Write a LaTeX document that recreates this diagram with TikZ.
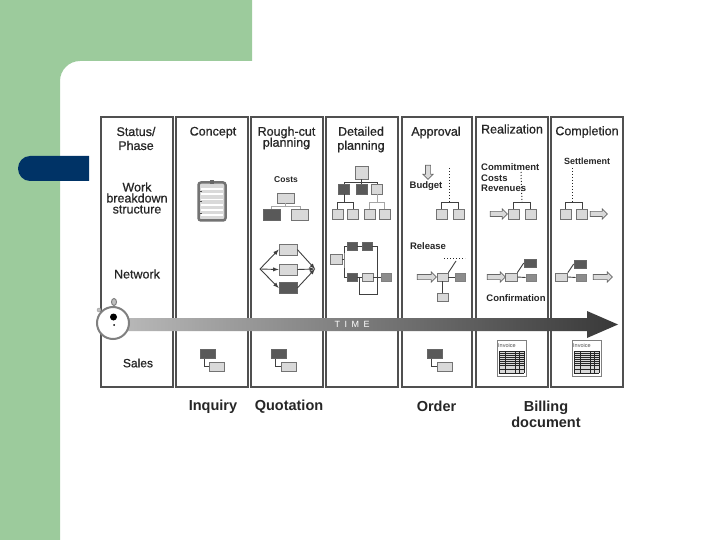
\documentclass[tikz,border=0pt]{standalone}
\usepackage{fontspec}
\setmainfont{Liberation Sans}
\newfontfamily\heavyfont[FakeBold=0.7]{Liberation Sans}
\usetikzlibrary{shapes.arrows, shapes.geometric}
\definecolor{pagegreen}{HTML}{9CCB9C}
\definecolor{pagenavy}{HTML}{003366}
\definecolor{panelgray}{HTML}{505050}
\tikzset{
    panel/.style={draw=panelgray, line width=2pt, fill=white},
    title/.style={font=\fontsize{12.5}{13}\heavyfont, text=black!85, inner sep=0pt, align=center},
    small/.style={font=\fontsize{9.5}{10}\selectfont\bfseries, text=black!85, inner sep=0pt},
    docname/.style={font=\fontsize{14.5}{16}\selectfont\bfseries, text=black!85, inner sep=0pt, align=center},
    darkbox/.style={draw=black!60, fill=black!65, line width=0.6pt, inner sep=0pt},
    midbox/.style={draw=black!50, fill=black!45, line width=0.6pt, inner sep=0pt},
    lightbox/.style={draw=black!55, fill=black!15, line width=0.6pt, inner sep=0pt},
    tall/.style={minimum width=11pt, minimum height=10pt},
    wide/.style={minimum width=11pt, minimum height=8pt},
    sales/.style={minimum width=15pt, minimum height=9pt},
    conn/.style={draw=black!75, line width=0.9pt},
    faint/.style={draw=black!35, line width=0.9pt},
    tick/.style={draw=black!85, line width=1pt, dotted},
    hollow/.style={single arrow, draw=black!60, fill=black!15, line width=0.7pt, inner sep=0pt, text height=4.5pt, text depth=0pt, minimum width=9.5pt, single arrow head extend=2.5pt, single arrow head indent=0pt},
    flowtip/.style={conn, -latex}
}
\begin{document}
\begin{tikzpicture}[x=1pt, y=-1pt]
    \useasboundingbox (0,0) rectangle (720,540);
    % Page
    \fill[pagegreen] (0,0) -- (252,0) -- (252,61) -- (80,61) .. controls (69,61) and (60,70) .. (60,81) -- (60,540) -- (0,540) -- cycle;
    \fill[pagenavy] (89,156) -- (30,156) .. controls (23,156) and (18,162) .. (18,168.5) .. controls (18,175) and (23,181) .. (30,181) -- (89,181) -- cycle;
    % Panels
    \foreach \xa/\xb in {101/172.5, 175.5/247.5, 251/322.5, 326/398, 402/472, 475.5/547.5, 550.5/623}
        \draw[panel] (\xa,117) rectangle (\xb,387);
    % Titles
    \node[title] (status) at (136,138.5) {Status/\\[1pt]Phase};
    \node[title] (concept) at (213,132.5) {Concept};
    \node[title, text width=72pt] (rough) at (286.5,138) {Rough-cut\\[-2pt]planning};
    \node[title] (detailed) at (361,139.5) {Detailed\\[1pt]planning};
    \node[title] (approval) at (436,132.5) {Approval};
    \node[title] (realization) at (512,129) {Realization};
    \node[title] (completion) at (587,132) {Completion};
    \node[title] (wbs) at (137,198) {Work\\[-2pt]breakdown\\[-2pt]structure};
    \node[title] (network) at (137,274) {Network};
    \node[title, font=\fontsize{12}{12}\heavyfont] (salesrow) at (138,363) {Sales};
    % Concept
    \node[draw=black!55, fill=black!15, line width=2.5pt, rounded corners=2.5pt, minimum width=27pt, minimum height=38pt, inner sep=0pt] (clipboard) at (212,201.5) {};
    \node[fill=black!60, minimum width=3.5pt, minimum height=4pt, inner sep=0pt] (clip) at (212,182) {};
    \foreach \y in {189,194,199.5,205,210,215}
        \draw[white, line width=1.6pt] (201,\y) -- (223,\y);
    \foreach \y in {191,201,213}
        \draw[black!70, line width=0.8pt] (200,\y) -- (202,\y);
    % Rough-cut, costs
    \node[small, font=\fontsize{8.5}{9}\selectfont\bfseries] (costs) at (286,180) {Costs};
    \node[lightbox, minimum width=17pt, minimum height=10pt] (rcroot) at (285.5,198) {};
    \node[darkbox, minimum width=17pt, minimum height=11pt] (rcleft) at (271.5,214.5) {};
    \node[lightbox, minimum width=17pt, minimum height=11pt] (rcright) at (300,214.5) {};
    \draw[faint] (rcroot.south) -- ++(0,3) -| (rcleft.north);
    \draw[faint] (rcroot.south) -- ++(0,3) -| (rcright.north);
    % Rough-cut, network
    \coordinate (rcin) at (260,269);
    \coordinate (rcout) at (315,269);
    \node[lightbox, minimum width=18pt, minimum height=11pt] (rctop) at (288,249.5) {};
    \node[lightbox, minimum width=18pt, minimum height=11pt] (rcmid) at (288,269.5) {};
    \node[darkbox, minimum width=18pt, minimum height=11pt] (rcbot) at (288,288) {};
    \foreach \b in {rctop,rcmid,rcbot} {
        \draw[flowtip] (rcin) -- (\b.west);
        \draw[flowtip] (\b.east) -- (rcout);
    }
    % Detailed, costs
    \node[lightbox, minimum width=13pt, minimum height=13pt] (dproot) at (361.5,172.5) {};
    \node[darkbox, tall] (dpa) at (344,189) {};
    \node[darkbox, tall] (dpb) at (361.5,189) {};
    \node[lightbox, tall] (dpc) at (377,189) {};
    \node[lightbox, tall] (dpa1) at (337.5,214) {};
    \node[lightbox, tall] (dpa2) at (353,214) {};
    \node[lightbox, tall] (dpc1) at (369.5,214) {};
    \node[lightbox, tall] (dpc2) at (384.5,214) {};
    \draw[conn] (dproot.south) -- ++(0,3) -| (dpa.north);
    \draw[conn] (dproot.south) -- ++(0,3) -| (dpc.north);
    \draw[conn] (dproot.south) -- (dpb.north);
    \draw[conn] (dpa.south) -- ++(0,8) -| (dpa1.north);
    \draw[conn] (dpa.south) -- ++(0,8) -| (dpa2.north);
    \draw[faint] (dpc.south) -- ++(0,8) -| (dpc1.north);
    \draw[faint] (dpc.south) -- ++(0,8) -| (dpc2.north);
    % Detailed, network
    \node[lightbox, minimum width=12pt, minimum height=10pt] (dnstart) at (336,259) {};
    \node[darkbox, minimum width=10pt, minimum height=8pt] (dntopa) at (352,246) {};
    \node[darkbox, minimum width=10pt, minimum height=8pt] (dntopb) at (367,246) {};
    \node[darkbox, wide, minimum width=10pt] (dnlowa) at (352,277.5) {};
    \node[lightbox, wide] (dnlowb) at (367.5,277.5) {};
    \node[midbox, wide, minimum width=10pt] (dnlowc) at (386,277.5) {};
    \coordinate (dnsplit) at (344,259);
    \coordinate (dnjoin) at (377,277.5);
    \coordinate (dnloop) at (359,277.5);
    \draw[conn] (dnstart.east) -- (dnsplit);
    \draw[conn] (dntopa.west) -| (dnsplit) |- (dnlowa.west);
    \draw[conn] (dntopa.east) -- (dntopb.west);
    \draw[conn] (dntopb.east) -| (dnjoin);
    \draw[conn] (dnlowa.east) -- (dnlowb.west);
    \draw[conn] (dnlowb.east) -- (dnlowc.west);
    \draw[conn] (dnloop) -- ++(0,16.5) -| (dnjoin);
    % Approval, costs
    \node[hollow, shape border rotate=270, text width=4.5pt, text height=0pt, minimum height=14pt] (aparrow) at (428,171) {};
    \node[small] (budget) at (426,186) {Budget};
    \node[lightbox, tall] (apleft) at (441.5,214) {};
    \node[lightbox, tall] (apright) at (458.5,214) {};
    \coordinate (apstem) at (449.5,202);
    \coordinate (apdot) at (449.5,168);
    \draw[tick] (apdot) -- (apstem);
    \draw[conn] (apstem) -| (apleft.north);
    \draw[conn] (apstem) -| (apright.north);
    % Approval, network
    \node[small] (release) at (428,246) {Release};
    \node[hollow, minimum height=19pt] (aprelarrow) at (425.5,277) {};
    \node[lightbox, wide] (apcentre) at (442.5,277) {};
    \node[midbox, wide, minimum width=9.5pt] (apside) at (460.5,277) {};
    \node[lightbox, wide] (apbelow) at (442.5,297) {};
    \coordinate (apdotl) at (444,258);
    \coordinate (apdotr) at (465,258);
    \coordinate (apline) at (456,261);
    \draw[tick] (apdotl) -- (apdotr);
    \draw[conn] (apline) -- (apcentre.north east);
    \draw[conn] (apcentre.east) -- (apside.west);
    \draw[conn] (apcentre.south) -- (apbelow.north);
    % Realization, costs
    \node[small, anchor=west] (commitment) at (481,167) {Commitment};
    \node[small, anchor=west] (rzcosts) at (481,178) {Costs};
    \node[small, anchor=west] (revenues) at (481,188.5) {Revenues};
    \node[hollow, minimum height=17pt] (rzarrow) at (497.5,214) {};
    \node[lightbox, tall] (rzleft) at (513.5,214.5) {};
    \node[lightbox, tall] (rzright) at (530.5,214.5) {};
    \coordinate (rzstem) at (522,202);
    \coordinate (rzdot) at (521,172);
    \draw[tick] (rzdot) -- (rzstem);
    \draw[conn] (rzstem) -| (rzleft.north);
    \draw[conn] (rzstem) -| (rzright.north);
    % Realization, network
    \node[hollow, minimum height=18pt] (rznetarrow) at (495,277) {};
    \node[lightbox, minimum width=12pt, minimum height=8pt] (rzcentre) at (511,277) {};
    \node[darkbox, minimum width=12pt, minimum height=8pt] (rztop) at (530,263) {};
    \node[midbox, minimum width=10pt, minimum height=7pt] (rzside) at (531,277.5) {};
    \draw[conn] (rzcentre.north east) -- (rztop.west);
    \draw[conn] (rzcentre.east) -- (rzside.west);
    \node[small] (confirmation) at (516,298) {Confirmation};
    % Completion, costs
    \node[small, font=\fontsize{9}{10}\selectfont\bfseries] (settlement) at (587,161) {Settlement};
    \node[lightbox, tall] (cpleft) at (565.5,214.5) {};
    \node[lightbox, tall] (cpright) at (582,214.5) {};
    \node[hollow, minimum height=17pt] (cparrow) at (597.5,214) {};
    \coordinate (cpstem) at (572,202);
    \coordinate (cpdot) at (572,168);
    \draw[tick] (cpdot) -- (cpstem);
    \draw[conn] (cpstem) -| (cpleft.north);
    \draw[conn] (cpstem) -| (cpright.north);
    % Completion, network
    \node[lightbox, minimum width=12pt, minimum height=8pt] (cpcentre) at (561.5,277) {};
    \node[darkbox, minimum width=12pt, minimum height=8pt] (cptop) at (580,264) {};
    \node[midbox, minimum width=10pt, minimum height=7pt] (cpside) at (581,277.5) {};
    \node[hollow, minimum height=19pt] (cpnetarrow) at (601.5,277) {};
    \draw[conn] (cpcentre.north east) -- (cptop.west);
    \draw[conn] (cpcentre.east) -- (cpside.west);
    % Time arrow
    \shade[left color=black!28, right color=black!78] (125,318) -- (587,318) -- (587,311) -- (618,324.5) -- (587,338) -- (587,331) -- (125,331) -- cycle;
    \node[text=white, font=\fontsize{9}{10}\selectfont, inner sep=0pt] (timelabel) at (352,324.5) {T\,\,\,I\,\,\,M\,\,\,E};
    \node[ellipse, draw=black!50, fill=black!25, line width=1pt, minimum width=5pt, minimum height=7pt, inner sep=0pt] (knobtop) at (114,302) {};
    \node[circle, draw=black!40, fill=black!25, minimum size=4pt, inner sep=0pt] (knobside) at (99,310) {};
    \node[circle, draw=black!50, fill=white, line width=2pt, minimum size=32pt, inner sep=0pt] (watch) at (113,323) {};
    \node[circle, fill=black, minimum size=7pt, inner sep=0pt] (watchhand) at (113.5,317) {};
    \node[circle, fill=black, minimum size=2pt, inner sep=0pt] (watchdot) at (114,325) {};
    % Sales
    \foreach \n/\xa/\xb in {inq/207.5/217, quo/279/289, ord/434.5/444.5} {
        \node[darkbox, sales] (\n top) at (\xa,354) {};
        \node[lightbox, sales] (\n low) at (\xb,366.5) {};
        \draw[conn] (\n top.south) ++(-3.5,0) |- (\n low.west);
    }
    % Invoices
    \foreach \n/\x in {inva/497, invb/572} {
        \node[draw=black!50, fill=white, line width=0.8pt, minimum width=29pt, minimum height=36pt, inner sep=0pt] (\n) at (\x+14.5,358) {};
        \node[font=\fontsize{5.5}{6}\selectfont, text=black!70, inner sep=0pt, anchor=west] (\n text) at (\x+1,345.5) {Invoice};
        \fill[black!15] (\x+2,351) rectangle (\x+27,373);
        \foreach \y in {351,353,355,357,359,361,363,365,369,373}
            \draw[black!85, line width=0.5pt] (\x+2,\y) -- (\x+27,\y);
        \foreach \v in {2,8,18,22,27}
            \draw[black!85, line width=0.5pt] (\x+\v,351) -- (\x+\v,373);
    }
    % Document names
    \node[docname] (inquiry) at (213,406.5) {Inquiry};
    \node[docname] (quotation) at (289,406.5) {Quotation};
    \node[docname] (order) at (436.5,406) {Order};
    \node[docname] (billing) at (546,414) {Billing\\document};
\end{tikzpicture}
\end{document}
